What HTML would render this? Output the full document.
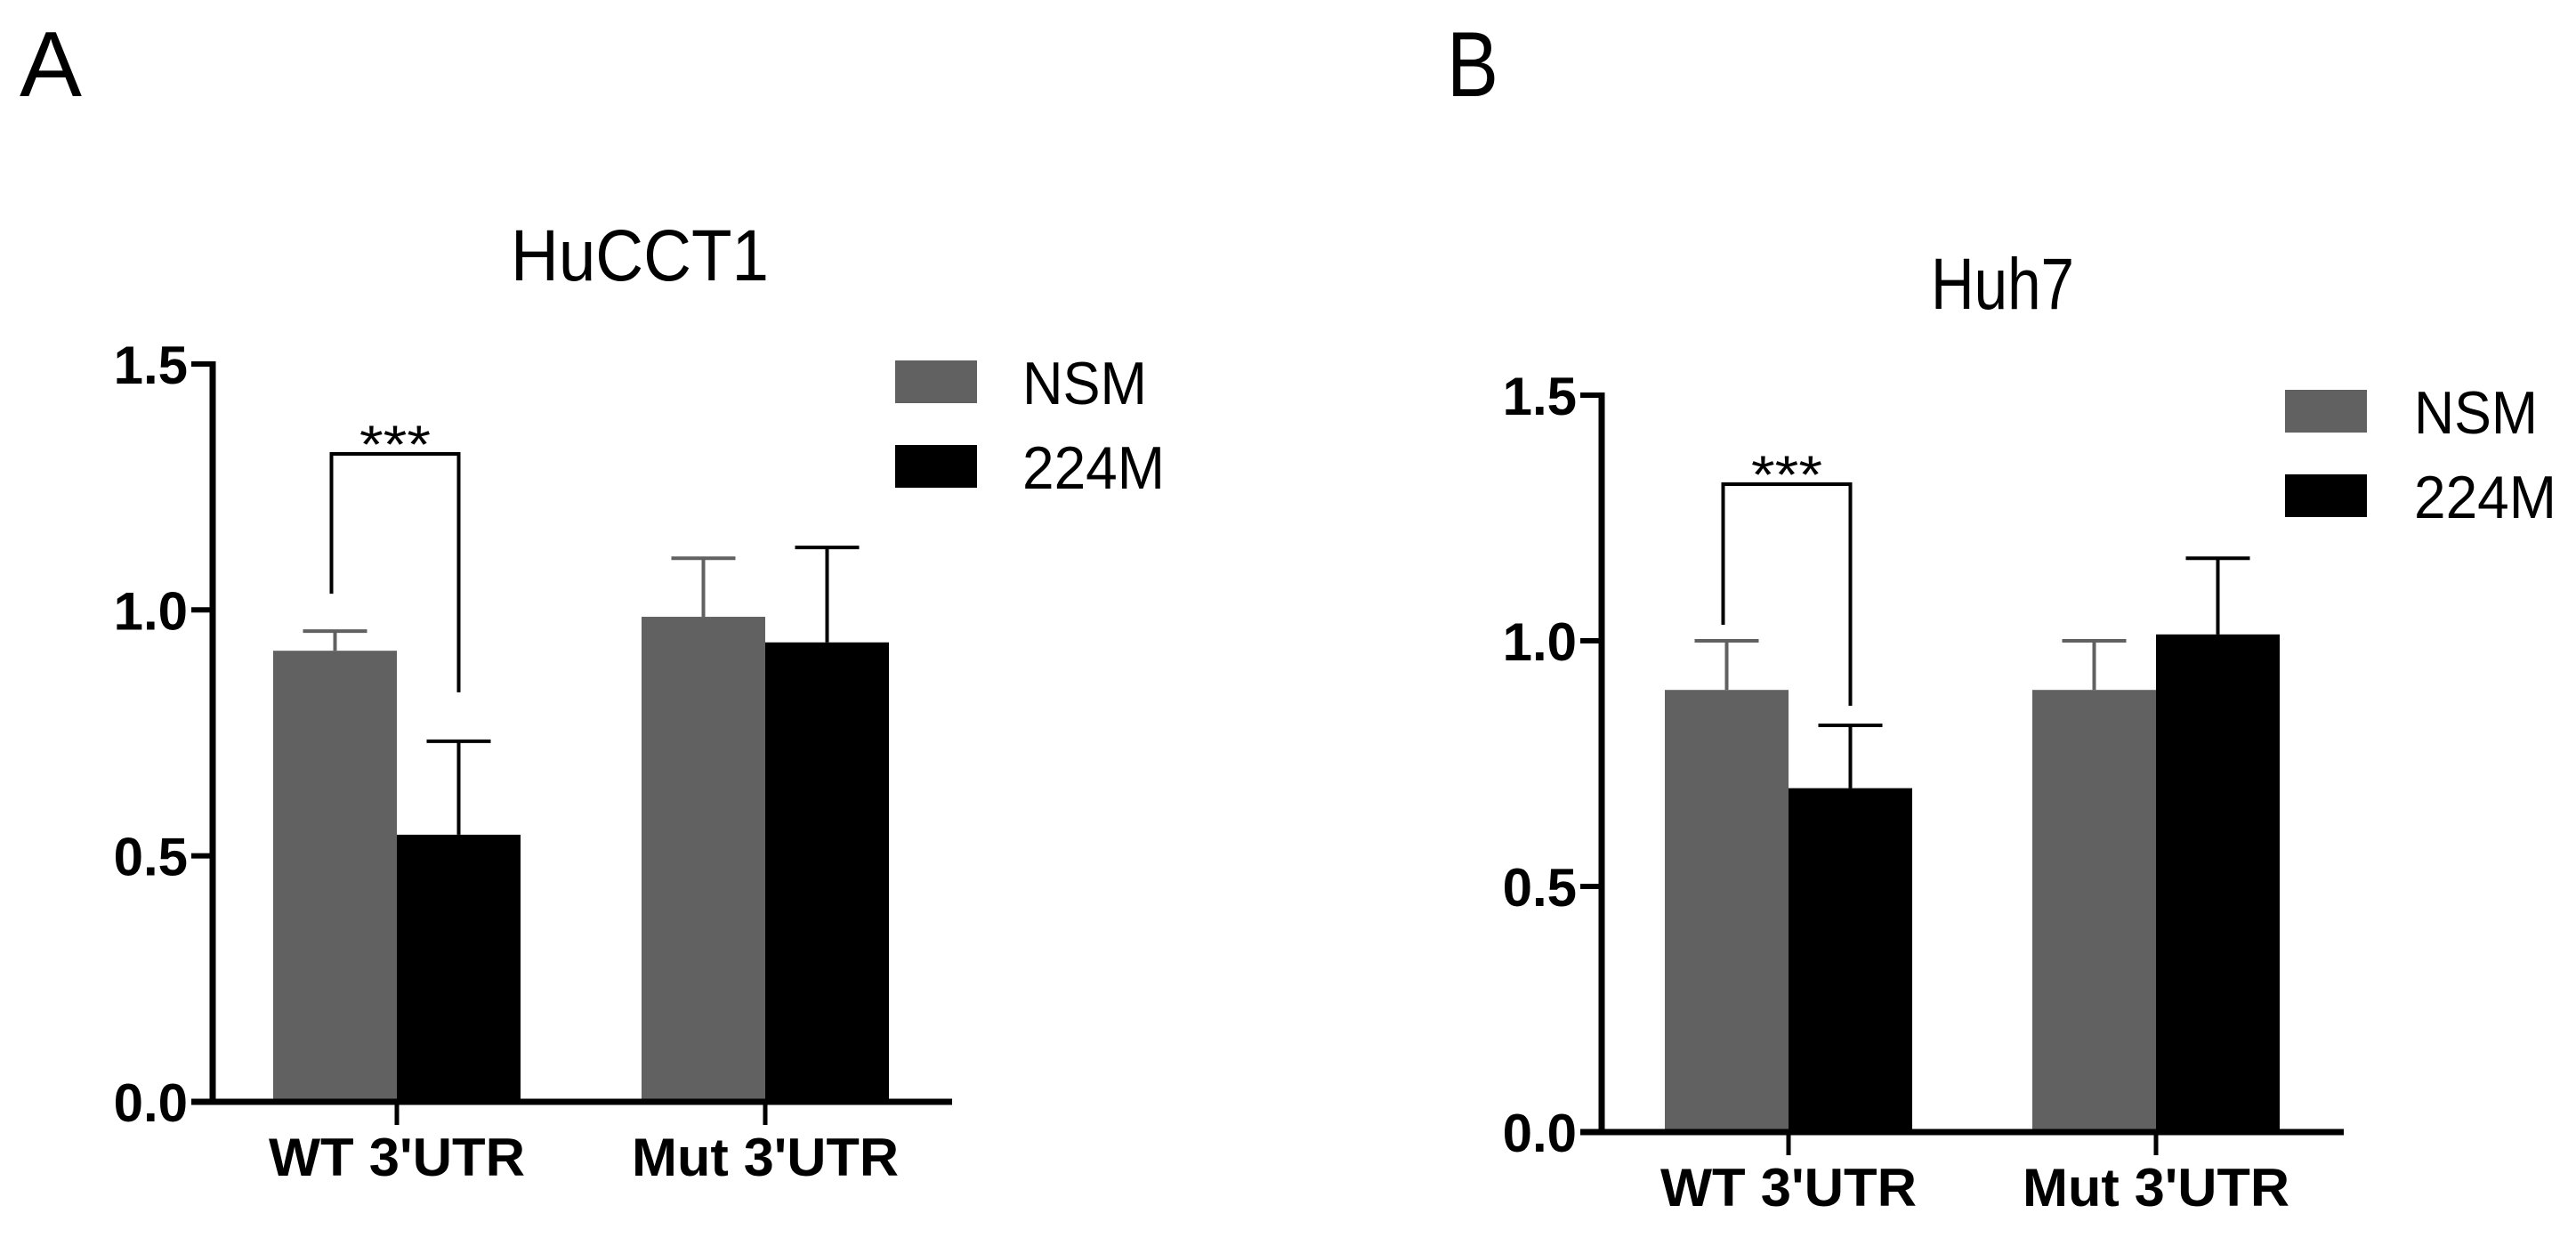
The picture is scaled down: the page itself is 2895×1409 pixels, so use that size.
<!DOCTYPE html>
<html><head><meta charset="utf-8"><style>
html,body{margin:0;padding:0;background:#fff;}
svg{display:block;font-family:"Liberation Sans",Arial,sans-serif;}
</style></head><body>
<svg id="fig" width="2895" height="1409" viewBox="0 0 2895 1409" xmlns="http://www.w3.org/2000/svg">
<rect x="0" y="0" width="2895" height="1409" fill="#fff"/>
<text x="22" y="108" font-size="104" textLength="70" lengthAdjust="spacingAndGlyphs">A</text>
<text x="1626" y="108" font-size="104" textLength="58" lengthAdjust="spacingAndGlyphs">B</text>
</svg>
<script>
const categories = ["WT 3'UTR", "Mut 3'UTR"];
const seriesNames = ["NSM", "224M"];
const yTicks = [0.0, 0.5, 1.0, 1.5];
const yTickLabels = ["0.0", "0.5", "1.0", "1.5"];
const titleA = "HuCCT1";
const nsmA = [0.917, 0.986];
const m224A = [0.543, 0.934];
const nsmErrA = [0.957, 1.105];
const m224ErrA = [0.733, 1.127];
const titleB = "Huh7";
const nsmB = [0.90, 0.90];
const m224B = [0.70, 1.013];
const nsmErrB = [1.00, 1.00];
const m224ErrB = [0.828, 1.168];

const NS = "http://www.w3.org/2000/svg";
const svg = document.getElementById('fig');
function mk(tag, attrs, parent){
  const e = document.createElementNS(NS, tag);
  for (const k in attrs) e.setAttribute(k, attrs[k]);
  (parent||svg).appendChild(e);
  return e;
}
const colors = ["#616161", "#000000"];

function drawPanel(p, nsm, m224, nsmErr, m224Err, title, key){
  const g = mk('g', {});
  
  
  const y = v => p.y0 - v * p.unit;
  const groupLeft = i => p.firstBar + i * p.groupStep;
  // bars
  const vals = [nsm, m224], errs = [nsmErr, m224Err];
  for (let s = 0; s < 2; s++) {
    for (let i = 0; i < categories.length; i++) {
      const x = groupLeft(i) + s * p.barW;
      const r = mk('rect', {x: x, y: y(vals[s][i]), width: p.barW, height: p.y0 - y(vals[s][i]), fill: colors[s]}, g);
      
      
      const cx = x + p.barW / 2;
      const eg = mk('g', {stroke: colors[s], 'stroke-width': 4}, g);
      
      
      mk('line', {x1: cx, x2: cx, y1: y(vals[s][i]), y2: y(errs[s][i])}, eg);
      mk('line', {x1: cx - 36, x2: cx + 36, y1: y(errs[s][i]), y2: y(errs[s][i])}, eg);
    }
  }
  // axes
  const ax = mk('g', {stroke: '#000', 'stroke-width': 7}, g);
  
  
  mk('line', {x1: p.axisX, x2: p.axisX, y1: y(1.5) - 3, y2: p.y0 + 3}, ax);
  mk('line', {x1: p.axisX - 24, x2: p.axisEnd, y1: p.y0, y2: p.y0}, ax);
  yTicks.forEach((t, k) => {
    mk('line', {x1: p.axisX - 24, x2: p.axisX, y1: y(t), y2: y(t), 'stroke-width': 6}, ax);
    const tl = mk('text', {x: p.axisX - 28, y: y(t) + 22, 'font-size': 60, 'font-weight': 'bold', 'text-anchor': 'end', fill: '#000'}, g);
    
    
    tl.textContent = yTickLabels[k];
  });
  categories.forEach((c, i) => {
    const cx = groupLeft(i) + p.barW;
    mk('line', {x1: cx, x2: cx, y1: p.y0, y2: p.y0 + 26, 'stroke-width': 5}, ax);
    const xl = mk('text', {x: cx, y: p.y0 + 83, 'font-size': 60, 'font-weight': 'bold', 'text-anchor': 'middle', fill: '#000', textLength: i===0?288:300, lengthAdjust: 'spacingAndGlyphs'}, g);
    
    
    xl.textContent = c;
  });
  // title
  const tt = mk('text', {x: p.titleX, y: p.titleY, 'font-size': 82, textLength: p.titleW, lengthAdjust: 'spacingAndGlyphs', fill: '#000'}, g);
  
  
  tt.textContent = title;
  // significance bracket
  const bx1 = groupLeft(0) + p.barW / 2 - 4 + p.brOff, bx2 = groupLeft(0) + p.barW * 1.5;
  const br = mk('polyline', {points: `${bx1},${y(nsmErr[0]) - p.gapL} ${bx1},${p.brTop} ${bx2},${p.brTop} ${bx2},${y(m224Err[0]) - p.gapR}`, fill: 'none', stroke: '#000', 'stroke-width': 4}, g);
  
  
  const st = mk('text', {x: (bx1 + bx2) / 2, y: p.brTop + 10, 'font-size': 60, 'text-anchor': 'middle', fill: '#000', textLength: 80, lengthAdjust: 'spacingAndGlyphs'}, g);
  
  
  st.textContent = '***';
  // legend
  seriesNames.forEach((n, s) => {
    const lg = mk('g', {}, g);
    
    
    const ly = p.legY + s * p.legStep;
    mk('rect', {x: p.legX, y: ly, width: 92, height: 48, fill: colors[s]}, lg);
    const lt = mk('text', {x: p.legTX, y: ly + 49, 'font-size': 68, fill: '#000', textLength: s===0?p.legW0:p.legW1, lengthAdjust: 'spacingAndGlyphs'}, lg);
    lt.textContent = n;
  });
}

drawPanel({y0:1238, unit:552.7, axisX:239, axisEnd:1070, firstBar:307, barW:139, groupStep:414,
  titleX:574, titleY:315, titleW:290, brTop:510, brOff:0, gapL:42, gapR:55,
  legX:1006, legY:405, legStep:95, legTX:1149, legW0:140, legW1:160}, nsmA, m224A, nsmErrA, m224ErrA, titleA, 'a');
drawPanel({y0:1272, unit:552, axisX:1800, axisEnd:2634, firstBar:1871, barW:139, groupStep:413,
  titleX:2170, titleY:347, titleW:161, brTop:544, brOff:0, gapL:18, gapR:22,
  legX:2568, legY:438, legStep:95, legTX:2713, legW0:139, legW1:160}, nsmB, m224B, nsmErrB, m224ErrB, titleB, 'b');
</script>
</body></html>
